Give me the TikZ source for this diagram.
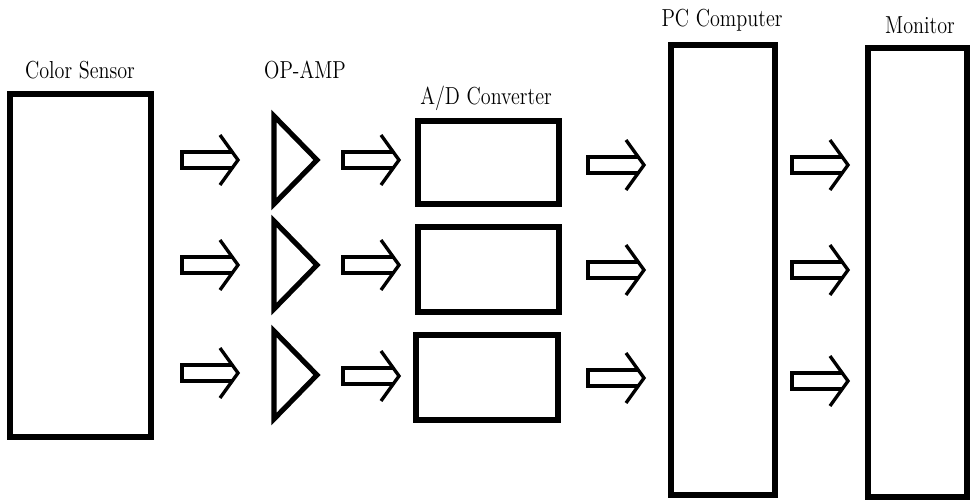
\documentclass[tikz,border=0pt]{standalone}
\usepackage{graphicx}
\tikzset{
  box/.style={draw, line width=3.4pt, inner sep=0pt, outer sep=0pt},
  lbl/.style={inner sep=0pt, font=\fontsize{14}{16}\selectfont},
  arrowline/.style={line width=1.9pt, line join=miter},
  ampline/.style={line width=2.9pt, line join=miter},
  hollowarrow/.pic={
    \draw[arrowline] (50,-8) -- (0,-8) -- (0,8) -- (50,8);
    \draw[arrowline] (38,-25) -- (56,0) -- (38,25);
  }
}
\newcommand{\cond}[1]{\scalebox{0.82}[1]{#1}}
\begin{document}
\begin{tikzpicture}[x=0.02cm,y=-0.02cm]
\useasboundingbox (0,0) rectangle (970,503);
\clip (0,0) rectangle (970,503);
% boxes
\node[box, minimum width=2.82cm, minimum height=6.86cm] (cs) at (80.5,265.5) {};
\node[box, minimum width=2.82cm, minimum height=1.66cm] (ad1) at (488.5,162.5) {};
\node[box, minimum width=2.82cm, minimum height=1.70cm] (ad2) at (488.5,269.5) {};
\node[box, minimum width=2.84cm, minimum height=1.70cm] (ad3) at (487,377.5) {};
\node[box, minimum width=2.08cm, minimum height=9.00cm] (pc) at (723,270) {};
\node[box, minimum width=1.98cm, minimum height=8.98cm] (mon) at (917.5,272.5) {};
% labels
\node[lbl] (lcs) at (80,70) {\cond{Color Sensor}};
\node[lbl] (lamp) at (305,70) {\cond{OP-AMP}};
\node[lbl] (lad) at (486,98) {\cond{A/D Converter}};
\node[lbl] (lpc) at (722,20) {\cond{PC Computer}};
\node[lbl] (lmon) at (920,25) {\cond{Monitor}};
% amplifiers
\draw[ampline] (274,116) -- (317,160) -- (274,204) -- cycle;
\draw[ampline] (274,221) -- (317,265) -- (274,309) -- cycle;
\draw[ampline] (274,331) -- (317,375) -- (274,419) -- cycle;
\coordinate (amp1) at (295,160);
\coordinate (amp2) at (295,265);
\coordinate (amp3) at (295,375);
% arrows
\pic at (182,160) {hollowarrow};
\pic at (182,265) {hollowarrow};
\pic at (182,373) {hollowarrow};
\pic at (343,160) {hollowarrow};
\pic at (343,265) {hollowarrow};
\pic at (343,376) {hollowarrow};
\pic at (588,165) {hollowarrow};
\pic at (588,270) {hollowarrow};
\pic at (588,378) {hollowarrow};
\pic at (792,165) {hollowarrow};
\pic at (792,270) {hollowarrow};
\pic at (792,381) {hollowarrow};
\end{tikzpicture}
\end{document}
